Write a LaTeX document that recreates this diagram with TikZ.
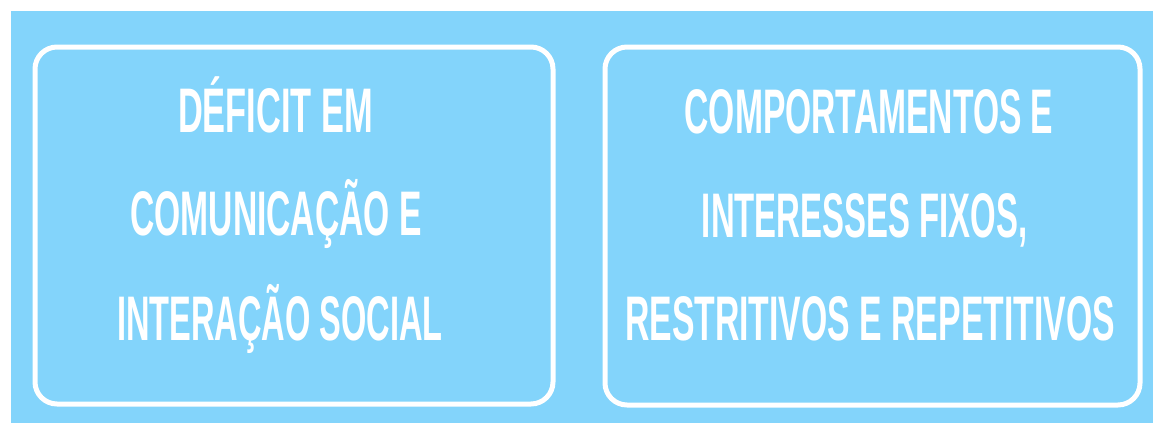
\documentclass[tikz,border=0pt]{standalone}
\usepackage{fontspec}
\setmainfont{Liberation Sans}
\definecolor{bgblue}{RGB}{131,212,251}
\begin{document}
\begin{tikzpicture}[x=1pt,y=-1pt,
  panel/.style={draw=white, line width=5pt, rounded corners=22pt, inner sep=0pt},
  lbl/.style={text=white, anchor=base, inner sep=0pt, font=\bfseries\fontsize{63}{63}\selectfont}]
\useasboundingbox (0,0) rectangle (1153,423);
\fill[bgblue] (11,11) rectangle (1153,423);
\node[panel, minimum width=518pt, minimum height=357pt] (left) at (294,225.5) {};
\node[panel, minimum width=535pt, minimum height=358pt] (right) at (872.5,226) {};
\node[lbl] (l1) at (275.5,132) {\scalebox{0.546}[1]{DÉFICIT EM}};
\node[lbl] (l2) at (276,235) {\scalebox{0.534}[1]{COMUNICAÇÃO E}};
\node[lbl] (l3) at (280,340) {\scalebox{0.517}[1]{INTERAÇÃO SOCIAL}};
\node[lbl] (r1) at (869,133) {\scalebox{0.534}[1]{COMPORTAMENTOS E}};
\node[lbl] (r2) at (864.5,237) {\scalebox{0.522}[1]{INTERESSES FIXOS,}};
\node[lbl] (r3) at (870,340) {\scalebox{0.536}[1]{RESTRITIVOS E REPETITIVOS}};
\end{tikzpicture}
\end{document}
